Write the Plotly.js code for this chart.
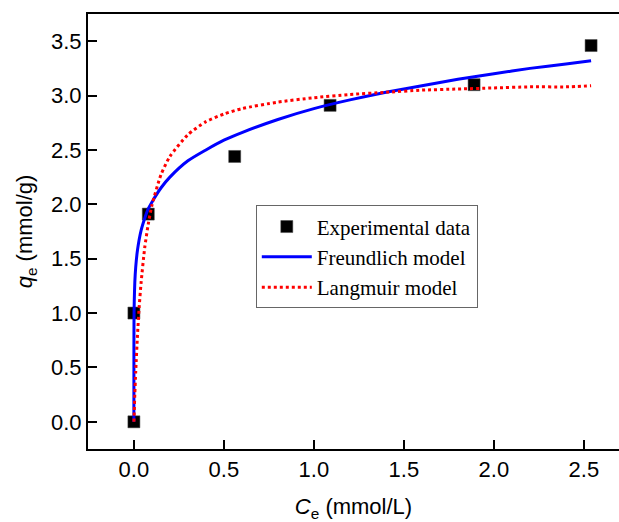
<!DOCTYPE html>
<html>
<head>
<meta charset="utf-8">
<script src="https://cdn.plot.ly/plotly-3.0.1.min.js"></script>
<style>html,body{margin:0;padding:0;background:#fff;overflow:hidden;}#chart{width:619px;height:522px;}</style>
</head>
<body>
<div id="chart"></div>
<script>
// Experimental data
var expCe = [0, 0, 0.08, 0.56, 1.09, 1.89, 2.54];
var expQe = [0, 1.00, 1.91, 2.44, 2.91, 3.10, 3.46];

// Freundlich model curve
var freCe = [0, 0.0001, 0.0005, 0.001, 0.002, 0.005, 0.01, 0.02, 0.04, 0.06, 0.08, 0.1, 0.15, 0.2, 0.3, 0.4, 0.5, 0.6, 0.8, 1.0, 1.2, 1.4, 1.6, 1.8, 2.0, 2.2, 2.4, 2.54];
var freQe = [0, 0.70, 0.90, 1.00, 1.11, 1.28, 1.42, 1.58, 1.76, 1.87, 1.96, 2.02, 2.15, 2.25, 2.40, 2.50, 2.59, 2.66, 2.78, 2.88, 2.96, 3.03, 3.09, 3.15, 3.20, 3.25, 3.29, 3.32];

// Langmuir model curve
var lanCe = [0, 0.002, 0.005, 0.01, 0.02, 0.03, 0.04, 0.06, 0.08, 0.1, 0.15, 0.2, 0.3, 0.4, 0.5, 0.6, 0.8, 1.0, 1.2, 1.4, 1.6, 1.8, 2.0, 2.2, 2.4, 2.54];
var lanQe = [0, 0.10, 0.25, 0.46, 0.80, 1.07, 1.28, 1.60, 1.82, 1.99, 2.27, 2.44, 2.64, 2.76, 2.83, 2.88, 2.94, 2.98, 3.01, 3.03, 3.05, 3.06, 3.07, 3.08, 3.08, 3.09];

var seriesNames = ["Experimental data", "Freundlich model", "Langmuir model"];
var xTickVals = [0, 0.5, 1.0, 1.5, 2.0, 2.5];
var xTickText = ["0.0", "0.5", "1.0", "1.5", "2.0", "2.5"];
var yTickVals = [0, 0.5, 1.0, 1.5, 2.0, 2.5, 3.0, 3.5];
var yTickText = ["0.0", "0.5", "1.0", "1.5", "2.0", "2.5", "3.0", "3.5"];

var traces = [
  {x: expCe, y: expQe, type: "scatter", mode: "markers", name: seriesNames[0],
   marker: {symbol: "square", size: 12, color: "#000000", line: {width: 0.5, color: "#444"}}},
  {x: freCe, y: freQe, type: "scatter", mode: "lines", name: seriesNames[1],
   line: {color: "#0000ff", width: 3, shape: "spline", smoothing: 0.6}},
  {x: lanCe, y: lanQe, type: "scatter", mode: "lines", name: seriesNames[2],
   line: {color: "#ff0000", width: 3, dash: "dot", shape: "spline", smoothing: 0.6}}
];

var axisFont = {family: "Liberation Sans, Arial, sans-serif", size: 22, color: "#000"};
var layout = {
  width: 619, height: 522,
  margin: {l: 88, r: 0, t: 14, b: 73},
  paper_bgcolor: "#ffffff", plot_bgcolor: "#ffffff",
  showlegend: true,
  legend: {
    x: 0.316, y: 0.56, xanchor: "left", yanchor: "top",
    bgcolor: "#ffffff", bordercolor: "#666666", borderwidth: 1,
    font: {family: "Liberation Serif, Times New Roman, serif", size: 21, color: "#000"},
    tracegroupgap: 0, itemwidth: 50
  },
  xaxis: {
    range: [-0.255, 2.695], showgrid: false, zeroline: false,
    showline: true, linecolor: "#000", linewidth: 2, mirror: true,
    ticks: "inside", ticklen: 9, tickwidth: 2, tickcolor: "#000",
    tickvals: xTickVals, ticktext: xTickText, tickfont: axisFont,
    title: {text: "<i>C</i><sub>e</sub> (mmol/L)", font: axisFont, standoff: 22}
  },
  yaxis: {
    range: [-0.25, 3.75], showgrid: false, zeroline: false,
    showline: true, linecolor: "#000", linewidth: 2, mirror: false,
    ticks: "inside", ticklen: 9, tickwidth: 2, tickcolor: "#000",
    tickvals: yTickVals, ticktext: yTickText, tickfont: axisFont,
    title: {text: "<i>q</i><sub>e</sub> (mmol/g)", font: axisFont, standoff: 12}
  }
};

Plotly.newPlot("chart", traces, layout, {displayModeBar: false, staticPlot: true});
</script>
</body>
</html>
